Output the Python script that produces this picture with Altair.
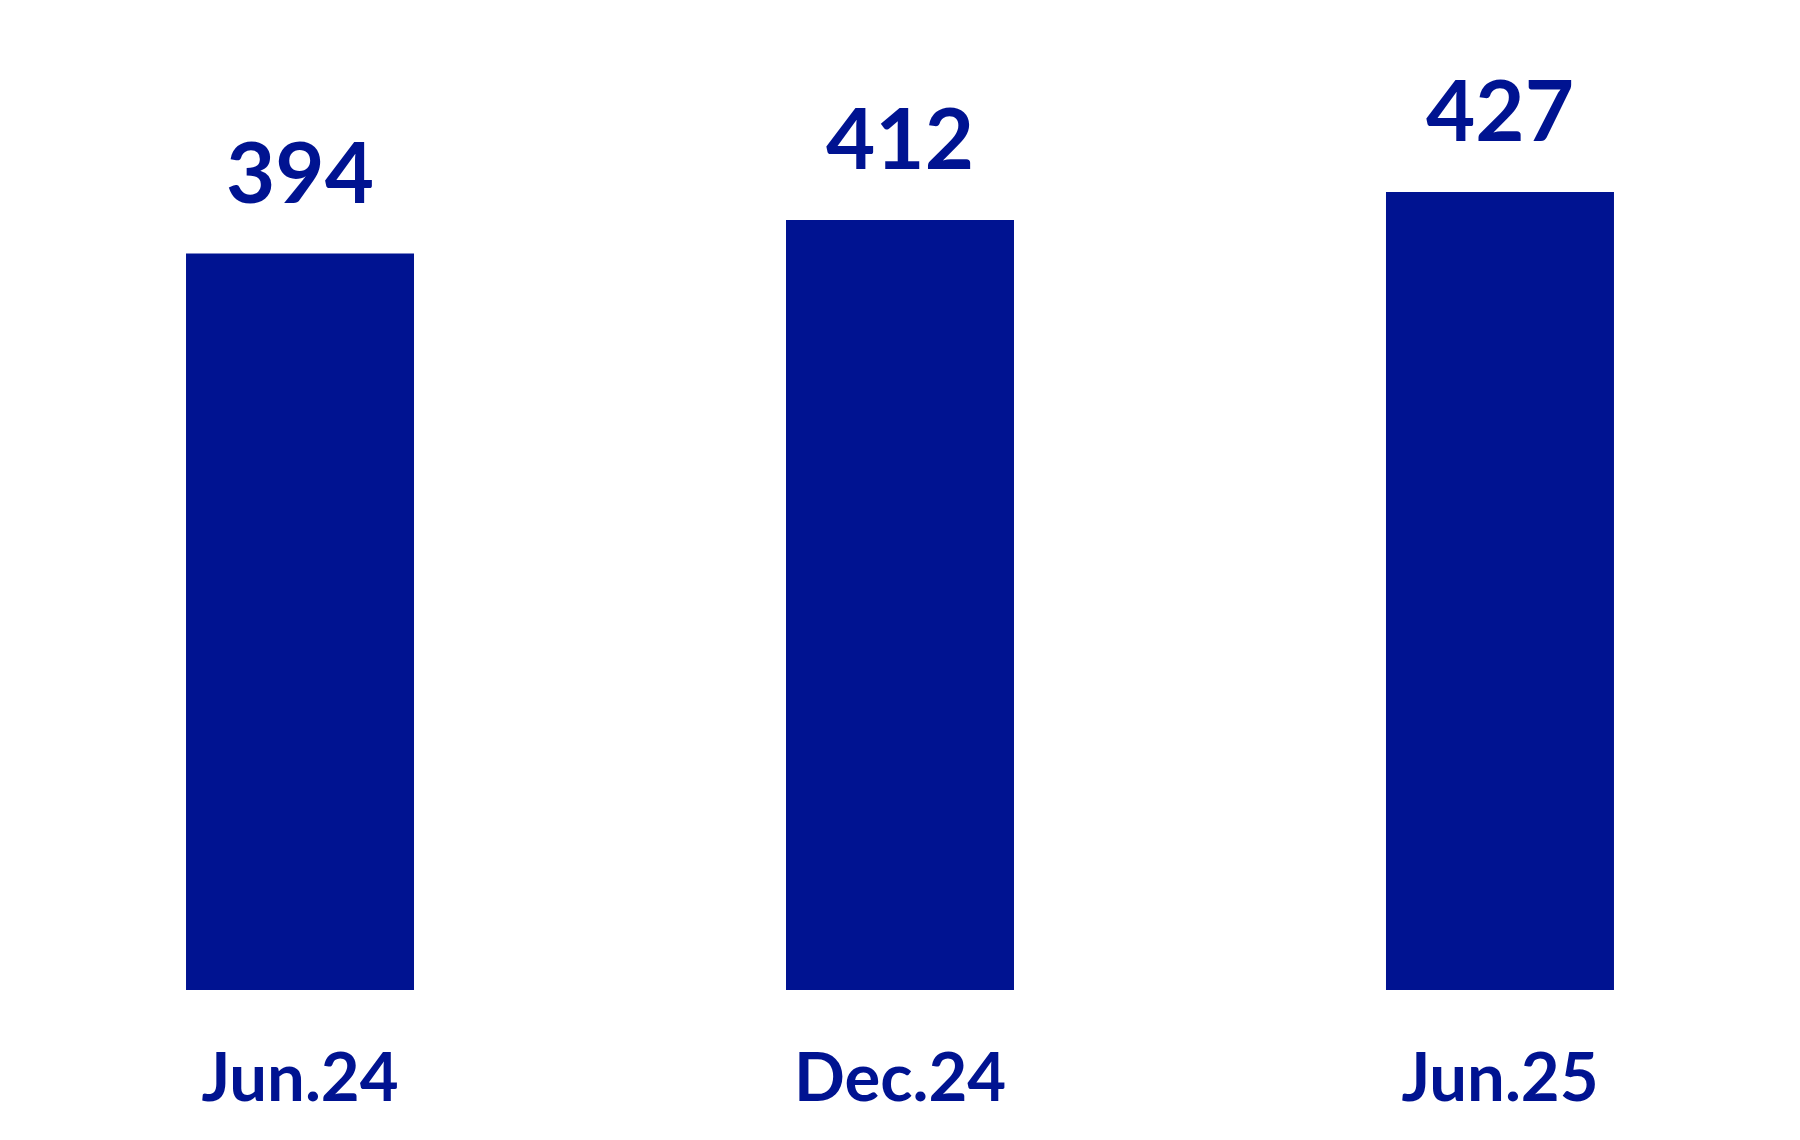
import altair as alt
import pandas as pd

periods = ["Jun.24", "Dec.24", "Jun.25"]
values = [394, 412, 427]

BLUE = "#001391"
FONT = "Lato"

df = pd.DataFrame({"period": periods, "value": values})

x = alt.X(
    "period:N",
    sort=periods,
    scale=alt.Scale(paddingInner=0.62, paddingOuter=0.2967),
    axis=alt.Axis(
        title=None,
        domain=False,
        ticks=False,
        tickSize=0,
        labelAngle=0,
        labelFont=FONT,
        labelFontSize=67,
        labelFontWeight="bold",
        labelColor=BLUE,
        labelBaseline="alphabetic",
        labelPadding=110,
        labelLimit=0,
    ),
)
y = alt.Y("value:Q", scale=alt.Scale(domain=[0, 525.4], nice=False, zero=True), axis=None)

base = alt.Chart(df).encode(x=x, y=y)

bars = base.mark_bar(color=BLUE)
labels = base.mark_text(
    dy=-51,
    baseline="alphabetic",
    align="center",
    font=FONT,
    fontSize=85,
    fontWeight="bold",
    color=BLUE,
).encode(text=alt.Text("value:Q"))

chart = (
    (bars + labels)
    .properties(
        width=1784,
        height=982,
        padding={"left": 0, "top": 0, "right": 0, "bottom": 30},
        background="white",
    )
    .configure_view(stroke=None)
    .configure_axis(grid=False)
)

chart.save("out.html", embed_options={"renderer": "svg", "actions": False})
